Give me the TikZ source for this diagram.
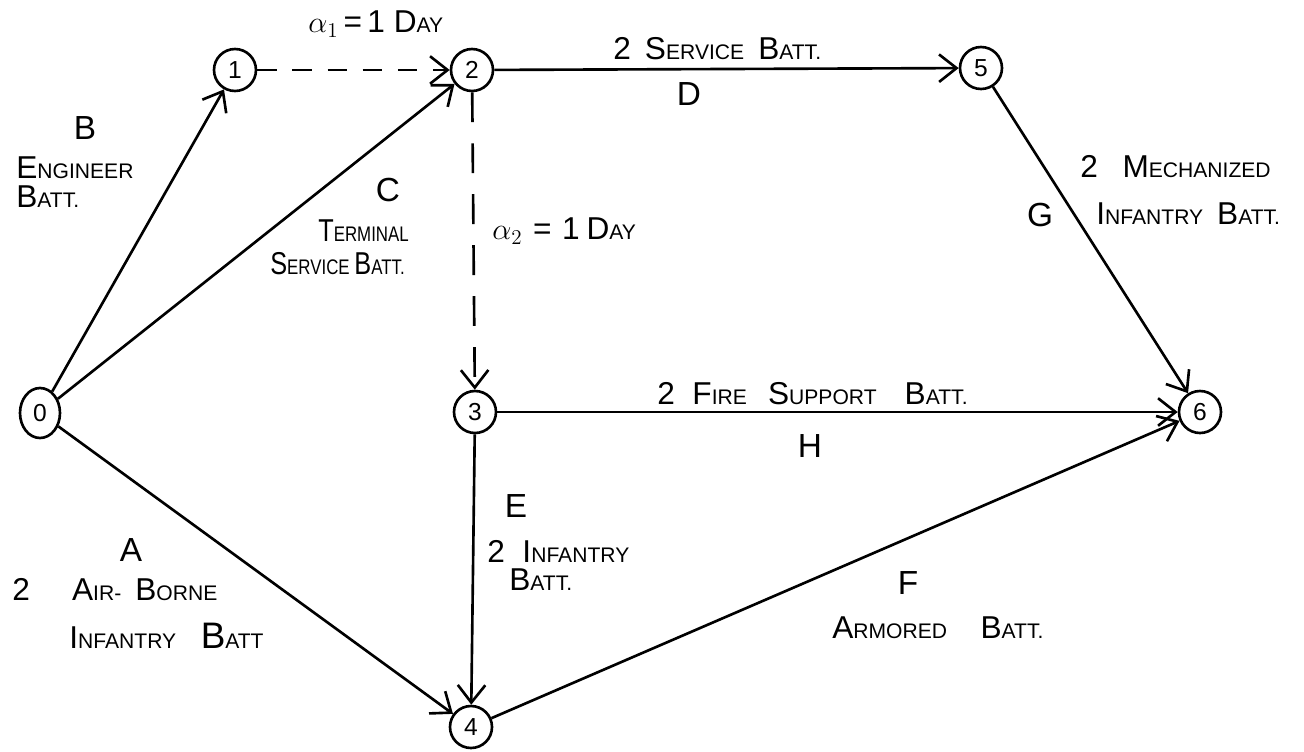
\documentclass[tikz,border=0pt]{standalone}
\usepackage{fontspec}
\setmainfont{Liberation Sans}
\newfontfamily\narrowfont{Liberation Sans}[FakeStretch=0.8]
\usetikzlibrary{arrows.meta,shapes.geometric}
\newcommand\Ini[1]{{\fontsize{18}{20}\selectfont #1}}
\begin{document}
\begin{tikzpicture}[x=0.02cm,y=-0.02cm,
  ev/.style={circle,draw,line width=1.5pt,minimum size=0.84cm,inner sep=0pt,font=\fontsize{14}{16}\selectfont},
  lbl/.style={font=\fontsize{12}{14}\selectfont,inner sep=0pt,anchor=west},
  nlbl/.style={font=\narrowfont\fontsize{12}{14}\selectfont,inner sep=0pt,anchor=west},
  big/.style={font=\fontsize{19}{21}\selectfont,inner sep=0pt},
  arr/.style={line width=1.5pt,-{Straight Barb[length=3.5mm,width=5.5mm]}},
  dsh/.style={arr,dash pattern=on 11pt off 9pt},
  vdsh/.style={arr,dash pattern=on 17pt off 12pt}]
\fill[white] (0,0) rectangle (1304,751);
\useasboundingbox (0,0) rectangle (1304,751);
% events
\node[ellipse,draw,line width=1.5pt,minimum width=0.8cm,minimum height=1cm,inner sep=0pt,font=\fontsize{14}{16}\selectfont] (n0) at (40,413) {0};
\node[ev] (n1) at (235,70) {1};
\node[ev] (n2) at (472,70) {2};
\node[ev] (n5) at (981,68) {5};
\node[ev] (n3) at (475,412) {3};
\node[ev] (n4) at (471,727) {4};
\node[ev] (n6) at (1200,412) {6};
% activities
\draw[arr] (n0) -- (n1);
\draw[arr] (n0) -- (n2);
\draw[dsh] (n1) -- (n2);
\draw[arr] (n2) -- (n5);
\draw[vdsh] (n2) -- (n3);
\draw[arr] (n5) -- (n6);
\draw[arr] (n3) -- (n6);
\draw[arr] (n3) -- (n4);
\draw[arr] (n0) -- (n4);
\draw[arr] (n4) -- (n6);
% labels
\node[lbl] (ta1) at (308,24) {\Ini{$\alpha_1$\,=\,1 D}AY};
\node[big] (tB) at (85,128) {B};
\node[lbl] (tB1) at (16,168) {\Ini{E}NGINEER};
\node[lbl] (tB2) at (16,197) {\Ini{B}ATT.};
\node[big] (tC) at (388,190) {C};
\node[nlbl] (tC1) at (318,231) {\Ini{T}ERMINAL};
\node[nlbl] (tC2) at (270,264) {\Ini{S}ERVICE \Ini{B}ATT.};
\node[lbl] (ta2) at (492,231) {\Ini{$\alpha_2$\hspace{6pt}=\hspace{6pt}1\hspace{4pt}D}AY};
\node[lbl] (tD1) at (613,49) {\Ini{2\hspace{8pt}S}ERVICE\hspace{8pt}\Ini{B}ATT.};
\node[big] (tD) at (689,94) {D};
\node[lbl] (tG1) at (1080,167) {\Ini{2\hspace{14pt}M}ECHANIZED};
\node[big] (tG) at (1040,215) {G};
\node[lbl] (tG2) at (1096,214) {\Ini{I}NFANTRY\hspace{8pt}\Ini{B}ATT.};
\node[lbl] (tH1) at (657,394) {\Ini{2\hspace{10pt}F}IRE\hspace{12pt}\Ini{S}UPPORT\hspace{16pt}\Ini{B}ATT.};
\node[big] (tH) at (810,446) {H};
\node[big] (tE) at (516,506) {E};
\node[lbl] (tE1) at (487,551) {\Ini{2\hspace{10pt}I}NFANTRY};
\node[lbl] (tE2) at (509,580) {\Ini{B}ATT.};
\node[big] (tA) at (131,550) {A};
\node[lbl] (tA1) at (12,590) {\Ini{2\hspace{24pt}A}IR-\hspace{8pt}\Ini{B}ORNE};
\node[lbl] (tA2) at (69,636) {\Ini{I}NFANTRY\hspace{14pt}{\fontsize{21}{23}\selectfont B}ATT};
\node[big] (tF) at (908,583) {F};
\node[lbl] (tF1) at (832,628) {\Ini{A}RMORED\hspace{19pt}\Ini{B}ATT.};
\end{tikzpicture}
\end{document}
